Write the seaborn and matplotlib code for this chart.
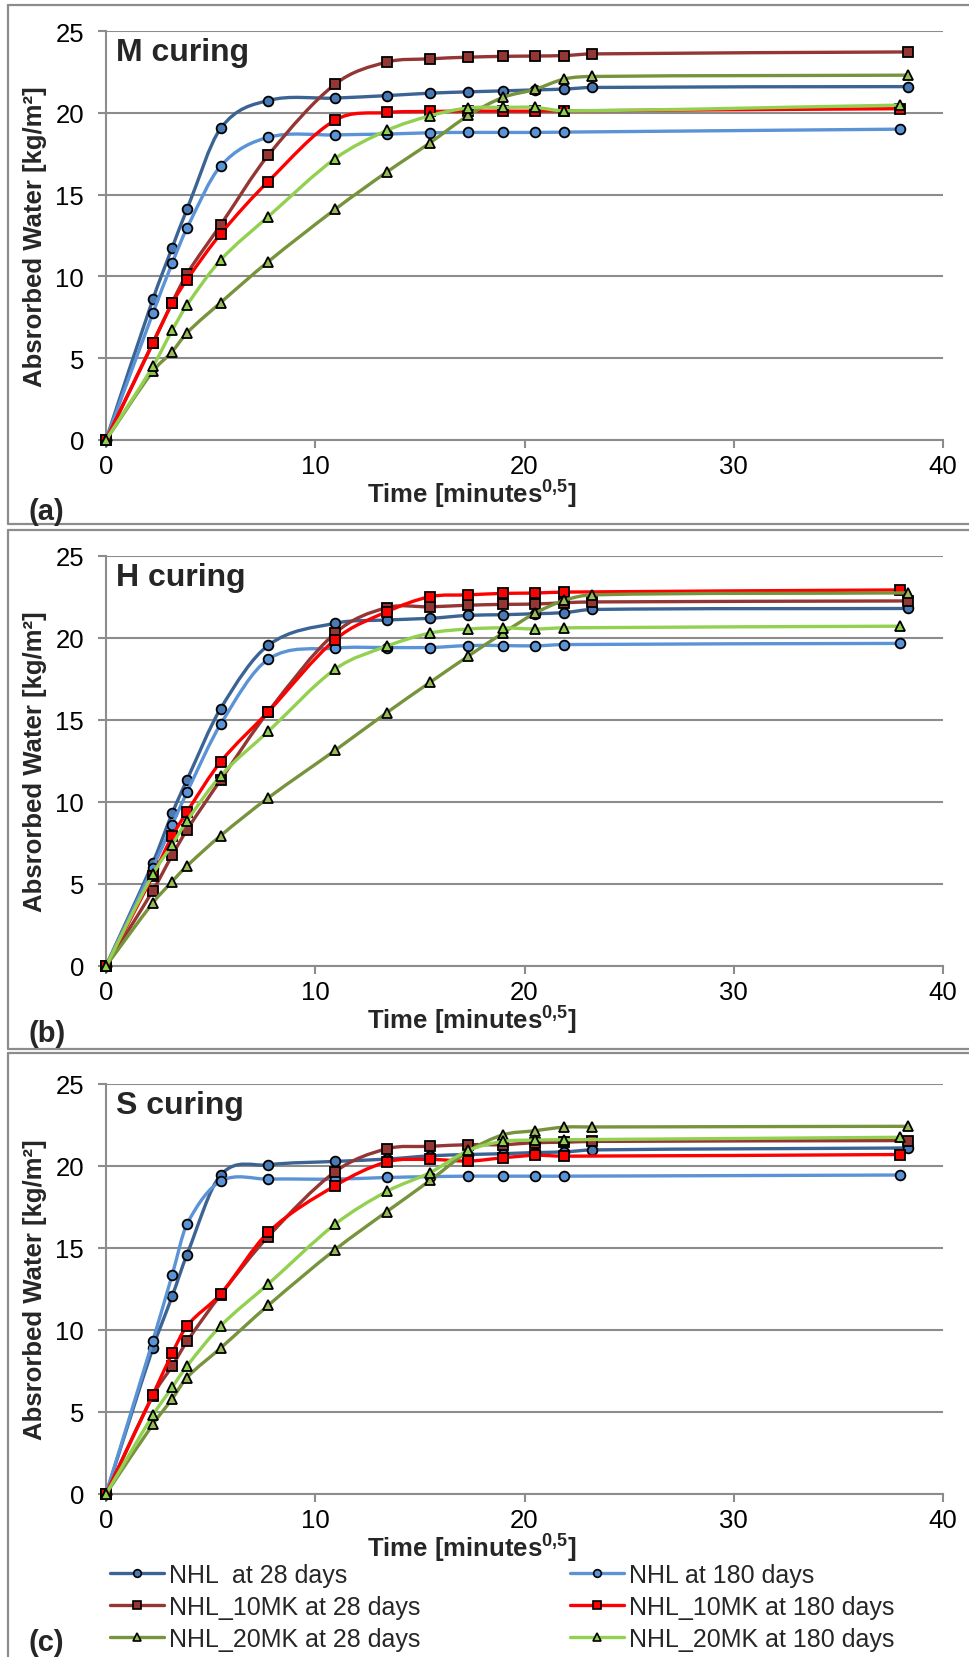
import numpy as np
import pandas as pd
import matplotlib
matplotlib.use("Agg")
import matplotlib.pyplot as plt
import seaborn as sns
from matplotlib.path import Path
from matplotlib.patches import PathPatch
from matplotlib.lines import Line2D

# ---------------- data ----------------
T28 = [0, 2.24, 3.16, 3.87, 5.48, 7.75, 10.95, 13.42, 15.49, 17.32, 18.97, 20.49, 21.91, 23.24, 38.34]
T180 = [0, 2.24, 3.16, 3.87, 5.48, 7.75, 10.95, 13.42, 15.49, 17.32, 18.97, 20.49, 21.91, 37.95]

M_NHL_28 = [0, 8.6, 11.75, 14.1, 19.05, 20.75, 20.9, 21.05, 21.2, 21.28, 21.34, 21.4, 21.45, 21.55, 21.6]
M_NHL_180 = [0, 7.75, 10.8, 12.95, 16.75, 18.5, 18.65, 18.7, 18.78, 18.8, 18.8, 18.8, 18.82, 19.0]
M_10MK_28 = [0, 5.95, 8.4, 10.15, 13.15, 17.4, 21.75, 23.1, 23.3, 23.4, 23.45, 23.47, 23.5, 23.6, 23.72]
M_10MK_180 = [0, 5.9, 8.35, 9.8, 12.6, 15.8, 19.55, 20.02, 20.08, 20.1, 20.1, 20.1, 20.12, 20.25]
M_20MK_28 = [0, 4.2, 5.4, 6.55, 8.4, 10.9, 14.1, 16.38, 18.17, 19.84, 20.94, 21.43, 22.07, 22.22, 22.3]
M_20MK_180 = [0, 4.5, 6.7, 8.25, 11.0, 13.65, 17.2, 18.92, 19.82, 20.3, 20.33, 20.33, 20.12, 20.47]

H_NHL_28 = [0, 6.3, 9.3, 11.35, 15.7, 19.55, 20.9, 21.1, 21.2, 21.38, 21.42, 21.48, 21.55, 21.74, 21.8]
H_NHL_180 = [0, 6.0, 8.6, 10.6, 14.75, 18.7, 19.38, 19.42, 19.42, 19.54, 19.54, 19.52, 19.6, 19.67]
H_10MK_28 = [0, 4.6, 6.75, 8.3, 11.35, 15.5, 20.3, 21.85, 21.9, 22.0, 22.05, 22.07, 22.15, 22.2, 22.26]
H_10MK_180 = [0, 5.5, 7.9, 9.4, 12.45, 15.5, 19.9, 21.6, 22.52, 22.63, 22.72, 22.74, 22.8, 22.93]
H_20MK_28 = [0, 3.85, 5.15, 6.1, 7.95, 10.25, 13.15, 15.45, 17.3, 18.9, 20.3, 21.5, 22.3, 22.63, 22.75]
H_20MK_180 = [0, 5.6, 7.4, 8.85, 11.6, 14.3, 18.1, 19.5, 20.3, 20.55, 20.62, 20.55, 20.62, 20.72]

S_NHL_28 = [0, 8.9, 12.05, 14.6, 19.45, 20.07, 20.28, 20.42, 20.62, 20.7, 20.75, 20.82, 20.86, 20.98, 21.1]
S_NHL_180 = [0, 9.35, 13.35, 16.45, 19.07, 19.2, 19.2, 19.3, 19.35, 19.38, 19.38, 19.38, 19.38, 19.45]
S_10MK_28 = [0, 6.0, 7.8, 9.3, 12.15, 15.7, 19.65, 21.05, 21.2, 21.3, 21.3, 21.42, 21.45, 21.5, 21.55]
S_10MK_180 = [0, 6.05, 8.57, 10.25, 12.2, 15.95, 18.8, 20.25, 20.4, 20.3, 20.5, 20.65, 20.6, 20.7]
S_20MK_28 = [0, 4.25, 5.8, 7.1, 8.9, 11.5, 14.9, 17.22, 19.12, 20.9, 21.9, 22.15, 22.37, 22.38, 22.42]
S_20MK_180 = [0, 4.8, 6.5, 7.8, 10.25, 12.8, 16.45, 18.45, 19.6, 20.95, 21.5, 21.58, 21.6, 21.75]

SERIES_NAMES = ["NHL  at 28 days", "NHL at 180 days", "NHL_10MK at 28 days",
                "NHL_10MK at 180 days", "NHL_20MK at 28 days", "NHL_20MK at 180 days"]
PANEL_TITLES = ["M curing", "H curing", "S curing"]
PANEL_LETTERS = ["(a)", "(b)", "(c)"]
PANELS = [
    [M_NHL_28, M_NHL_180, M_10MK_28, M_10MK_180, M_20MK_28, M_20MK_180],
    [H_NHL_28, H_NHL_180, H_10MK_28, H_10MK_180, H_20MK_28, H_20MK_180],
    [S_NHL_28, S_NHL_180, S_10MK_28, S_10MK_180, S_20MK_28, S_20MK_180],
]
X_TICKS = [0, 10, 20, 30, 40]
Y_TICKS = [0, 5, 10, 15, 20, 25]

# ---------------- style ----------------
LINE_COLORS = ["#3B6494", "#5B93D7", "#943634", "#FF0000", "#77933C", "#92D050"]
FACE_COLORS = ["#4A7AB5", "#5B93D7", "#943634", "#FF0000", "#9BBB59", "#92D050"]
MARKERS = ["o", "o", "s", "s", "^", "^"]
MSIZES = [7, 7, 6.8, 6.8, 7.2, 7.2]
GRAY = "#8C8C8C"

sns.set_style("white")
plt.rcParams["font.family"] = ["Liberation Sans", "DejaVu Sans"]
plt.rcParams["mathtext.fontset"] = "custom"
plt.rcParams["mathtext.rm"] = "Liberation Sans"
plt.rcParams["mathtext.bf"] = "Liberation Sans:bold"

W, H = 969, 1658
fig = plt.figure(figsize=(W / 100, H / 100), dpi=100)


def fx(px):
    return px / W


def fy(py):
    return 1 - py / H


def smooth_patch(ax, x, y, color, z):
    x = np.asarray(x, float)
    y = np.asarray(y, float)
    n = len(x)
    m = np.zeros(n)
    for i in range(n):
        if i == 0:
            m[i] = (y[1] - y[0]) / (x[1] - x[0])
        elif i == n - 1:
            m[i] = (y[-1] - y[-2]) / (x[-1] - x[-2])
        else:
            m[i] = (y[i + 1] - y[i - 1]) / (x[i + 1] - x[i - 1])
    verts = [(x[0], y[0])]
    codes = [Path.MOVETO]
    for i in range(n - 1):
        dx = x[i + 1] - x[i]
        verts += [(x[i] + dx / 3, y[i] + m[i] * dx / 3),
                  (x[i + 1] - dx / 3, y[i + 1] - m[i + 1] * dx / 3),
                  (x[i + 1], y[i + 1])]
        codes += [Path.CURVE4] * 3
    patch = PathPatch(Path(verts, codes), facecolor="none", edgecolor=color,
                      lw=2.4, capstyle="round", joinstyle="round", zorder=z)
    ax.add_patch(patch)


# axes pixel geometry (top-origin pixels)
AX_LEFT, AX_RIGHT = 106, 943
AX_TB = [(32, 441), (557, 967), (1085, 1495)]

for p, (top, bot) in enumerate(AX_TB):
    ax = fig.add_axes([fx(AX_LEFT), fy(bot), fx(AX_RIGHT - AX_LEFT), (bot - top) / H])
    for s in range(6):
        xs = T28 if s % 2 == 0 else T180
        ys = PANELS[p][s]
        z = 3 + s
        smooth_patch(ax, xs, ys, LINE_COLORS[s], z)
        df = pd.DataFrame({"t": xs, "w": ys})
        sns.lineplot(data=df, x="t", y="w", ax=ax, estimator=None, sort=False,
                     color=LINE_COLORS[s], linestyle="none", marker=MARKERS[s],
                     markersize=MSIZES[s], markerfacecolor=FACE_COLORS[s],
                     markeredgecolor="black", markeredgewidth=1.3, zorder=z + 0.5,
                     clip_on=False)
    ax.set_xlim(0, 40)
    ax.set_ylim(0, 25)
    ax.set_xticks(X_TICKS)
    ax.set_yticks(Y_TICKS)
    ax.tick_params(axis="both", labelsize=18.5, colors=GRAY, labelcolor="black",
                   length=5.8, width=1.5, direction="out")
    ax.tick_params(axis="y", pad=10, left=True)
    ax.tick_params(axis="x", pad=4.5, bottom=True)
    ax.yaxis.grid(True, color=GRAY, lw=1.5)
    ax.xaxis.grid(False)
    for side in ["top", "right"]:
        ax.spines[side].set_visible(False)
    for side in ["left", "bottom"]:
        ax.spines[side].set_color(GRAY)
        ax.spines[side].set_linewidth(1.5)
    ax.set_axisbelow(True)
    ax.set_facecolor("none")

    ax.set_ylabel("Absrorbed Water [kg/m²]", fontsize=18.5, fontweight="bold")
    ax.yaxis.set_label_coords((47 - AX_LEFT) / (AX_RIGHT - AX_LEFT), 0.5)
    ax.set_xlabel(r"Time [minutes$^{\mathbf{0{,}5}}$]", fontsize=18.5, fontweight="bold")
    ax.xaxis.set_label_coords(0.437, -53 / (bot - top))
    ax.xaxis.label.set_verticalalignment("center")

    ax.text(0.012, 0.985, PANEL_TITLES[p], transform=ax.transAxes, fontsize=23,
            fontweight="bold", ha="left", va="top", zorder=20)

# panel borders
BORDERS = [(6, 525, True), (531, 1050, True), (1054, 1670, False)]
for top, bot, has_bottom in BORDERS:
    fig.add_artist(Line2D([fx(8), fx(8)], [fy(top), fy(min(bot, H))], transform=fig.transFigure,
                          color=GRAY, lw=1.6))
    fig.add_artist(Line2D([fx(8), 1], [fy(top), fy(top)], transform=fig.transFigure,
                          color=GRAY, lw=1.6))
    if has_bottom:
        fig.add_artist(Line2D([fx(8), 1], [fy(bot), fy(bot)], transform=fig.transFigure,
                              color=GRAY, lw=1.6))

# panel letters
for letter, cy in zip(PANEL_LETTERS, [512, 1034, 1643]):
    fig.text(fx(28), fy(cy), letter, fontsize=21, fontweight="bold", ha="left", va="center")

# legend
handles = []
order = [0, 2, 4, 1, 3, 5]
for s in order:
    handles.append(Line2D([], [], color=LINE_COLORS[s], lw=2.4, marker=MARKERS[s],
                          markersize=5.5, markerfacecolor=FACE_COLORS[s],
                          markeredgecolor="black", markeredgewidth=1.2))
labels = [SERIES_NAMES[s] for s in order]
fig.legend(handles, labels, ncol=2, loc="upper left", bbox_to_anchor=(fx(110), fy(1564)),
           frameon=False, fontsize=18, handlelength=2.15, handletextpad=0.2,
           columnspacing=6.0, labelspacing=0.32, borderpad=0, borderaxespad=0)

fig.savefig("out.png", dpi=100)
